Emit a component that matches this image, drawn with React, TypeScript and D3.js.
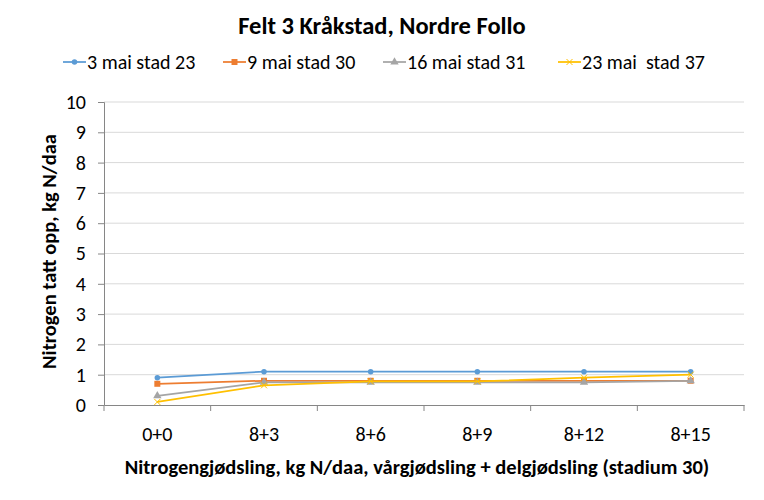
import { useRef, useEffect } from 'react';
import { select, scaleBand, scaleLinear, line, axisLeft, axisBottom, symbol, symbolCircle, symbolSquare, symbolTriangle } from 'd3';

const categories = ['0+0', '8+3', '8+6', '8+9', '8+12', '8+15'];
const yTicks = [0, 1, 2, 3, 4, 5, 6, 7, 8, 9, 10];

const seriesNames = ['3 mai stad 23', '9 mai stad 30', '16 mai stad 31', '23 mai  stad 37'];
const stad23 = [0.9, 1.1, 1.1, 1.1, 1.1, 1.1];
const stad30 = [0.7, 0.8, 0.8, 0.8, 0.8, 0.8];
const stad31 = [0.3, 0.75, 0.75, 0.75, 0.75, 0.8];
const stad37 = [0.1, 0.65, 0.78, 0.78, 0.9, 1.0];

const colors = ['#5B9BD5', '#ED7D31', '#A5A5A5', '#FFC000'];
const markers = ['circle', 'square', 'triangle', 'x'];

const W = 764;
const H = 500;
const margin = { top: 102, right: 20, bottom: 95, left: 104 };
const FONT = 'Carlito, Calibri, "Open Sans", sans-serif';

export default function App() {
  const svgRef = useRef<SVGSVGElement>(null);

  useEffect(() => {
    if (!svgRef.current) return;
    const svg = select(svgRef.current);
    svg.selectAll('*').remove();

    const innerW = W - margin.left - margin.right;
    const innerH = H - margin.top - margin.bottom;

    svg.append('rect')
      .attr('x', 0.5).attr('y', 0.5)
      .attr('width', W - 1).attr('height', H - 1)
      .attr('fill', 'white').attr('stroke', '#d9d9d9');

    // Title
    svg.append('text')
      .attr('x', 382).attr('y', 34)
      .attr('text-anchor', 'middle')
      .attr('font-family', FONT)
      .attr('font-weight', 'bold')
      .attr('font-size', 24.5)
      .attr('fill', '#000')
      .text('Felt 3 Kråkstad, Nordre Follo');

    const g = svg.append('g').attr('transform', `translate(${margin.left},${margin.top})`);

    const x = scaleBand().domain(categories).range([0, innerW]);
    const y = scaleLinear().domain([0, 10]).range([innerH, 0]);

    // Grid
    g.selectAll('.grid')
      .data(yTicks.slice(1))
      .enter()
      .append('line')
      .attr('x1', 0).attr('x2', innerW)
      .attr('y1', (d) => y(d)).attr('y2', (d) => y(d))
      .attr('stroke', '#d9d9d9').attr('stroke-width', 1);

    // Y axis
    const yAxis = g.append('g')
      .call(axisLeft(y).tickValues(yTicks).tickSize(6).tickPadding(12));
    yAxis.select('.domain').attr('stroke', '#868686');
    yAxis.selectAll('.tick line').attr('stroke', '#868686');
    yAxis.selectAll('text')
      .attr('font-family', FONT).attr('font-size', 20).attr('fill', '#000');

    // X axis
    const xAxis = g.append('g')
      .attr('transform', `translate(0,${innerH})`)
      .call(axisBottom(x).tickSize(0).tickPadding(22));
    xAxis.select('.domain').attr('stroke', '#868686');
    xAxis.selectAll('text')
      .attr('font-family', FONT).attr('font-size', 20).attr('fill', '#000');
    const bounds = categories.map((c) => x(c) || 0).concat([innerW]);
    g.append('g').selectAll('line')
      .data(bounds)
      .enter()
      .append('line')
      .attr('x1', (d) => d).attr('x2', (d) => d)
      .attr('y1', innerH).attr('y2', innerH + 6)
      .attr('stroke', '#868686');

    // Axis titles
    svg.append('text')
      .attr('transform', `translate(56,${margin.top + innerH / 2 - 2}) rotate(-90)`)
      .attr('text-anchor', 'middle')
      .attr('font-family', FONT).attr('font-weight', 'bold').attr('font-size', 20.5)
      .text('Nitrogen tatt opp, kg N/daa');
    svg.append('text')
      .attr('x', 417).attr('y', 474)
      .attr('text-anchor', 'middle')
      .attr('font-family', FONT).attr('font-weight', 'bold').attr('font-size', 20.5)
      .text('Nitrogengjødsling, kg N/daa, vårgjødsling + delgjødsling (stadium 30)');

    const allSeries = [stad23, stad30, stad31, stad37];
    const cx = (i: number) => (x(categories[i]) || 0) + x.bandwidth() / 2;

    const drawMarker = (sel: any, type: string, color: string) => {
      if (type === 'x') {
        sel.append('path')
          .attr('d', 'M-3,-3L3,3M-3,3L3,-3')
          .attr('stroke', color).attr('stroke-width', 1).attr('fill', 'none');
        return;
      }
      const t = type === 'circle' ? symbolCircle : type === 'square' ? symbolSquare : symbolTriangle;
      const size = type === 'circle' ? 24 : type === 'square' ? 36 : 30;
      sel.append('path').attr('d', symbol(t, size)()).attr('fill', color);
    };

    allSeries.forEach((vals, si) => {
      const ln = line<number>().x((_, i) => cx(i)).y((d) => y(d));
      g.append('path')
        .datum(vals)
        .attr('fill', 'none')
        .attr('stroke', colors[si])
        .attr('stroke-width', 1.75)
        .attr('d', ln);
      vals.forEach((v, i) => {
        const m = g.append('g').attr('transform', `translate(${cx(i)},${y(v)})`);
        drawMarker(m, markers[si], colors[si]);
      });
    });

    // Legend
    const legendX = [63, 223, 383, 558];
    seriesNames.forEach((name, i) => {
      const lg = svg.append('g').attr('transform', `translate(${legendX[i]},62)`);
      lg.append('line').attr('x1', 0).attr('x2', 23).attr('y1', 0).attr('y2', 0)
        .attr('stroke', colors[i]).attr('stroke-width', 1.75);
      const m = lg.append('g').attr('transform', 'translate(11.5,0)');
      drawMarker(m, markers[i], colors[i]);
      lg.append('text')
        .attr('x', 24).attr('y', 7)
        .attr('font-family', FONT).attr('font-size', 20)
        .attr('xml:space', 'preserve')
        .style('white-space', 'pre')
        .text(name);
    });
  }, []);

  return <svg ref={svgRef} width={W} height={H} style={{ display: 'block', margin: -8 }} />;
}
